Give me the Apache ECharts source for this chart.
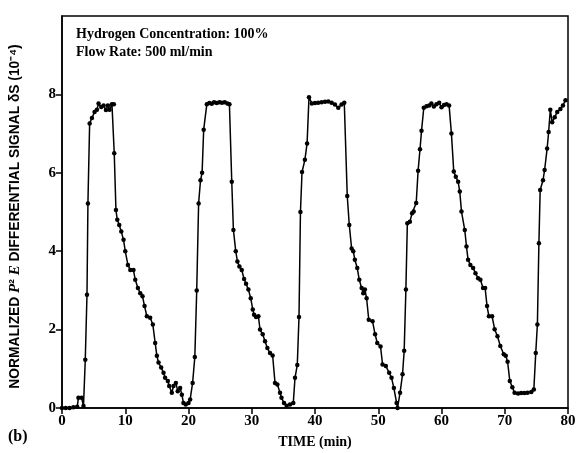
<!DOCTYPE html>
<html>
<head>
<meta charset="utf-8">
<script src="https://cdn.jsdelivr.net/npm/echarts@6/dist/echarts.min.js"></script>
<style>
  html, body { margin: 0; padding: 0; background: #fff; }
  #chart { width: 576px; height: 453px; }
</style>
</head>
<body>
<div id="chart"></div>
<script>
// time axis (min) and normalized P2E differential signal (10^-4)
const timeMin = [
  0.0, 0.6, 1.2, 1.8, 2.4, 2.6, 3.1, 3.4, 3.68, 3.95, 4.1, 4.37, 4.73, 5.15, 5.52, 5.78, 6.2, 6.58, 6.95, 7.26,
  7.52, 7.9, 8.2, 8.26, 8.53, 8.74, 9.05, 9.37, 9.73, 10.0, 10.42, 10.8, 11.3, 11.58, 12.0, 12.37, 12.73, 13.05, 13.42, 13.94,
  14.36, 14.73, 15.0, 15.26, 15.68, 16.05, 16.3, 16.73, 16.95, 17.36, 17.63, 18.0, 18.3, 18.68, 18.95, 19.2, 19.57, 20.0, 20.26, 20.65,
  21.0, 21.3, 21.6, 21.9, 22.15, 22.4, 22.9, 23.3, 23.68, 24.05, 24.47, 24.9, 25.3, 25.73, 26.15, 26.47, 26.84, 27.1, 27.47, 27.73,
  28.05, 28.42, 28.79, 29.1, 29.47, 29.84, 30.16, 30.37, 30.68, 31.05, 31.31, 31.73, 32.1, 32.47, 32.89, 33.3, 33.68, 34.05, 34.47, 34.7,
  35.1, 35.52, 36.05, 36.57, 36.84, 37.2, 37.47, 37.7, 37.95, 38.4, 38.75, 39.05, 39.5, 40.0, 40.5, 41.05, 41.58, 42.1, 42.63, 43.15,
  43.68, 44.2, 44.63, 45.1, 45.42, 45.79, 46.05, 46.3, 46.68, 47.0, 47.37, 47.63, 47.89, 48.16, 48.5, 49.1, 49.5, 49.84, 50.36, 50.68,
  51.2, 51.73, 52.1, 52.47, 52.9, 53.05, 53.45, 53.84, 54.1, 54.37, 54.6, 55.0, 55.35, 55.6, 56.0, 56.3, 56.6, 56.84, 57.2, 57.63,
  58.05, 58.4, 58.79, 59.2, 59.63, 60.0, 60.4, 60.8, 61.2, 61.57, 61.94, 62.26, 62.63, 62.89, 63.16, 63.68, 63.95, 64.2, 64.57, 65.0,
  65.37, 65.79, 66.15, 66.57, 66.9, 67.2, 67.5, 68.0, 68.4, 68.85, 69.3, 69.84, 70.16, 70.45, 70.8, 71.2, 71.55, 72.1, 72.6, 73.1,
  73.6, 74.2, 74.6, 74.9, 75.16, 75.4, 75.6, 76.05, 76.3, 76.7, 76.94, 77.2, 77.5, 77.9, 78.3, 78.8, 79.2, 79.6
]
const signal = [
  0.0, 0.0, 0.0, 0.02, 0.03, 0.26, 0.26, 0.05, 1.23, 2.89, 5.22, 7.26, 7.40, 7.55, 7.61, 7.77, 7.68, 7.72, 7.6, 7.72,
  7.61, 7.75, 7.75, 6.5, 5.05, 4.80, 4.67, 4.5, 4.29, 4.0, 3.65, 3.52, 3.52, 3.27, 3.06, 2.93, 2.85, 2.6, 2.34, 2.3,
  2.13, 1.66, 1.33, 1.16, 1.03, 0.9, 0.77, 0.69, 0.56, 0.39, 0.56, 0.64, 0.43, 0.51, 0.34, 0.13, 0.09, 0.13, 0.22, 0.64,
  1.3, 3.0, 5.22, 5.81, 6.0, 7.1, 7.75, 7.78, 7.76, 7.8, 7.78, 7.8, 7.79, 7.8, 7.77, 7.75, 5.77, 4.54, 4.0, 3.74,
  3.61, 3.52, 3.29, 3.17, 3.02, 2.8, 2.51, 2.38, 2.32, 2.34, 2.0, 1.88, 1.7, 1.53, 1.4, 1.34, 0.64, 0.6, 0.39, 0.26,
  0.13, 0.06, 0.09, 0.13, 0.77, 1.1, 2.32, 5.0, 6.02, 6.33, 6.75, 7.93, 7.77, 7.78, 7.79, 7.8, 7.81, 7.82, 7.79, 7.74,
  7.66, 7.74, 7.79, 5.41, 4.67, 4.07, 4.0, 3.78, 3.57, 3.27, 3.06, 2.93, 3.02, 2.8, 2.25, 2.21, 1.88, 1.66, 1.57, 1.11,
  1.07, 0.9, 0.77, 0.51, 0.13, 0.0, 0.39, 0.86, 1.46, 3.02, 4.71, 4.75, 4.97, 5.01, 5.23, 6.05, 6.6, 7.07, 7.66, 7.7,
  7.72, 7.77, 7.69, 7.75, 7.79, 7.67, 7.73, 7.75, 7.72, 7.0, 6.03, 5.9, 5.77, 5.52, 5.01, 4.54, 4.12, 3.78, 3.65, 3.57,
  3.44, 3.31, 3.27, 3.06, 3.06, 2.6, 2.34, 2.34, 2.01, 1.83, 1.58, 1.37, 1.33, 1.18, 0.69, 0.53, 0.39, 0.37, 0.38, 0.38,
  0.39, 0.41, 0.47, 1.4, 2.13, 4.2, 5.56, 5.81, 6.07, 6.62, 7.04, 7.61, 7.29, 7.42, 7.55, 7.63, 7.72, 7.85
]
const xTicks = [0, 10, 20, 30, 40, 50, 60, 70, 80]
const yTicks = [0, 2, 4, 6, 8]
const notes = ['Hydrogen Concentration: 100%', 'Flow Rate: 500 ml/min']

const serif = '"Liberation Serif", "DejaVu Serif", serif'
const sans = '"Liberation Sans", Arial, sans-serif'

const chart = echarts.init(document.getElementById('chart'))
const option = {
    backgroundColor: '#fff',
    animation: false,
    grid: {
        left: 62, right: 8, top: 16, bottom: 45,
        outerBoundsMode: 'none',
        show: true, borderColor: '#000', borderWidth: 1.5
    },
    xAxis: {
        type: 'value',
        min: 0, max: 80, interval: 10,
        name: 'TIME (min)',
        nameLocation: 'middle',
        nameGap: 27,
        nameTextStyle: { fontFamily: serif, fontWeight: 'bold', fontSize: 14, color: '#000' },
        axisLine: { lineStyle: { color: '#000', width: 1.5 } },
        axisTick: { length: 6, lineStyle: { color: '#000', width: 1.5 }, customValues: xTicks },
        axisLabel: { customValues: xTicks, fontFamily: serif, fontWeight: 'bold', fontSize: 15, color: '#000', margin: 6 },
        splitLine: { show: false }
    },
    yAxis: {
        type: 'value',
        min: 0, max: 10, interval: 2,
        name: '{n|NORMALIZED }{i|P}{n|² }{i|E}{n| DIFFERENTIAL SIGNAL δS (10⁻⁴)}',
        nameLocation: 'middle',
        nameGap: 39,
        nameTextStyle: {
            padding: [0, 9, 0, 0],
            rich: {
                n: { fontFamily: sans, fontWeight: 'bold', fontSize: 13.8, color: '#000' },
                i: { fontFamily: serif, fontStyle: 'italic', fontWeight: 'bold', fontSize: 15, color: '#000' }
            }
        },
        axisLine: { lineStyle: { color: '#000', width: 1.5 } },
        axisTick: { length: 6, lineStyle: { color: '#000', width: 1.5 }, customValues: yTicks },
        axisLabel: { customValues: yTicks, fontFamily: serif, fontWeight: 'bold', fontSize: 15, color: '#000', margin: 6 },
        splitLine: { show: false }
    },
    graphic: [
        { type: 'text', left: 76, top: 27, style: { text: notes[0], font: 'bold 14px ' + serif, fill: '#000' } },
        { type: 'text', left: 76, top: 45, style: { text: notes[1], font: 'bold 14px ' + serif, fill: '#000' } },
        { type: 'text', left: 8, top: 429, style: { text: '(b)', font: 'bold 16px ' + serif, fill: '#000' } }
    ],
    series: [{
        type: 'line',
        data: timeMin.map((t, i) => [t, signal[i]]),
        symbol: 'circle',
        symbolSize: 4.5,
        lineStyle: { color: '#000', width: 1.5 },
        itemStyle: { color: '#000' }
    }]
}
chart.setOption(option)
</script>
</body>
</html>
